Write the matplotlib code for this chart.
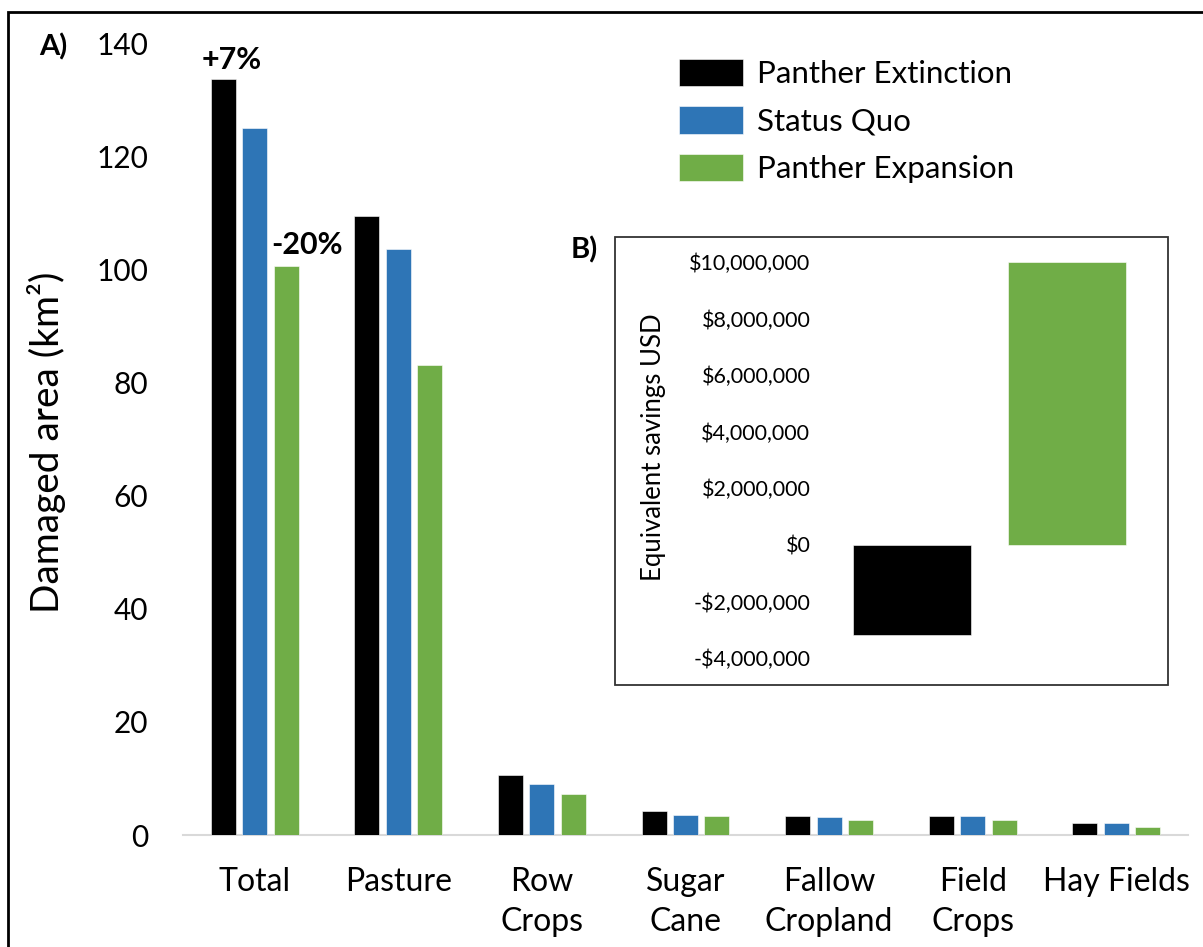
import numpy as np
import matplotlib
matplotlib.use("Agg")
import matplotlib.pyplot as plt
from matplotlib.patches import Rectangle
from matplotlib.ticker import FuncFormatter

plt.rcParams['font.family'] = ['Lato', 'DejaVu Sans']

# ---- data -------------------------------------------------------------
categories = ['Total', 'Pasture', 'Row\nCrops', 'Sugar\nCane', 'Fallow\nCropland',
              'Field\nCrops', 'Hay Fields']
scenarios = ['Panther Extinction', 'Status Quo', 'Panther Expansion']
extinction = [133.6, 109.5, 10.6, 4.2, 3.4, 3.4, 2.2]
status_quo = [125.0, 103.6, 9.1, 3.5, 3.1, 3.3, 2.2]
expansion = [100.6, 83.1, 7.3, 3.3, 2.7, 2.6, 1.5]
yticks_main = [0, 20, 40, 60, 80, 100, 120, 140]

inset_scenarios = ['Panther Extinction', 'Panther Expansion']
savings_usd = [-3.2e6, 10.0e6]
yticks_inset = [-4e6, -2e6, 0, 2e6, 4e6, 6e6, 8e6, 10e6]

colors = ['#000000', '#2E75B6', '#70AD47']

# ---- layout helpers (pixel positions on a 1203x947 canvas) -------------
W, H = 1203, 947
def fx(px):
    return px / W
def fy(py):
    return 1 - py / H

fig = plt.figure(figsize=(W / 100, H / 100), dpi=100)
fig.patch.set_facecolor('white')

# outer frame
fig.patches.append(Rectangle((fx(8), fy(960)), fx(1220) - fx(8), fy(12) - fy(960),
                             transform=fig.transFigure, fill=False,
                             edgecolor='black', linewidth=2, zorder=10))

# ---- panel A ------------------------------------------------------------
ax = fig.add_axes([fx(183), fy(835), (1188 - 183) / W, (835 - 43) / H])
ax.set_facecolor('none')
x = np.arange(len(categories))
step = 0.219
width = 0.174
series = [extinction, status_quo, expansion]
for i, (vals, name, c) in enumerate(zip(series, scenarios, colors)):
    ax.bar(x + (i - 1) * step, vals, width=width, color=c, label=name,
           edgecolor='white', linewidth=0.4, zorder=3)

ax.set_xlim(-0.5, len(categories) - 0.5)
ax.set_ylim(0, 140)
ax.set_yticks(yticks_main)
ax.set_xticks(x)
ax.set_xticklabels(categories, fontsize=23, linespacing=1.42)
ax.tick_params(axis='y', length=0, pad=25, labelsize=21.5)
ax.tick_params(axis='x', length=0, pad=23)
for s in ['top', 'left', 'right']:
    ax.spines[s].set_visible(False)
ax.spines['bottom'].set_color('#d9d9d9')
ax.spines['bottom'].set_linewidth(1.5)

# percentage change relative to status quo for the totals
pct_ext = (extinction[0] / status_quo[0] - 1) * 100
pct_exp = (expansion[0] / status_quo[0] - 1) * 100
ax.annotate(f"{pct_ext:+.0f}%", (x[0] - step, extinction[0]), xytext=(6, 4),
            textcoords='offset points', ha='center', va='bottom',
            fontsize=22, fontweight='bold')
ax.annotate(f"{pct_exp:+.0f}%", (x[0] + step, expansion[0]), xytext=(15, 5),
            textcoords='offset points', ha='center', va='bottom',
            fontsize=22, fontweight='bold')

ax.legend(loc='upper left', bbox_to_anchor=(fx(679), fy(59)),
          bbox_transform=fig.transFigure, frameon=False, borderpad=0,
          borderaxespad=0, handlelength=2.05, handleheight=0.96,
          labelspacing=0.58, handletextpad=0.45, fontsize=22.5)

fig.text(fx(47), fy(442), 'Damaged area (km²)', rotation=90,
         ha='center', va='center', fontsize=28)
fig.text(fx(53), fy(47), 'A)', ha='center', va='center',
         fontsize=21, fontweight='bold')

# ---- panel B (inset) ---------------------------------------------------
fig.patches.append(Rectangle((fx(615), fy(685)), fx(1168) - fx(615), fy(237) - fy(685),
                             transform=fig.transFigure, facecolor='white',
                             edgecolor='#333333', linewidth=1.3, zorder=4))
fig.text(fx(584), fy(250), 'B)', ha='center', va='center',
         fontsize=21, fontweight='bold')

ax2 = fig.add_axes([fx(834), fy(658), 311 / W, (658 - 262) / H], zorder=6)
ax2.set_facecolor('none')
ax2.bar(np.arange(len(inset_scenarios)), savings_usd, width=0.76,
        color=[colors[0], colors[2]], edgecolor='white', linewidth=0.4)
ax2.set_xlim(-0.5, 1.5)
ax2.set_ylim(-4e6, 10e6)
ax2.set_yticks(yticks_inset)
ax2.yaxis.set_major_formatter(FuncFormatter(
    lambda v, p: ('-' if v < 0 else '') + f"${abs(v):,.0f}"))
ax2.set_xticks([])
ax2.tick_params(axis='y', length=0, pad=17, labelsize=15.5)
for s in ax2.spines.values():
    s.set_visible(False)

fig.text(fx(654), fy(447), 'Equivalent savings USD', rotation=90,
         ha='center', va='center', fontsize=18.5, zorder=7)

fig.savefig('out.png', dpi=100)
